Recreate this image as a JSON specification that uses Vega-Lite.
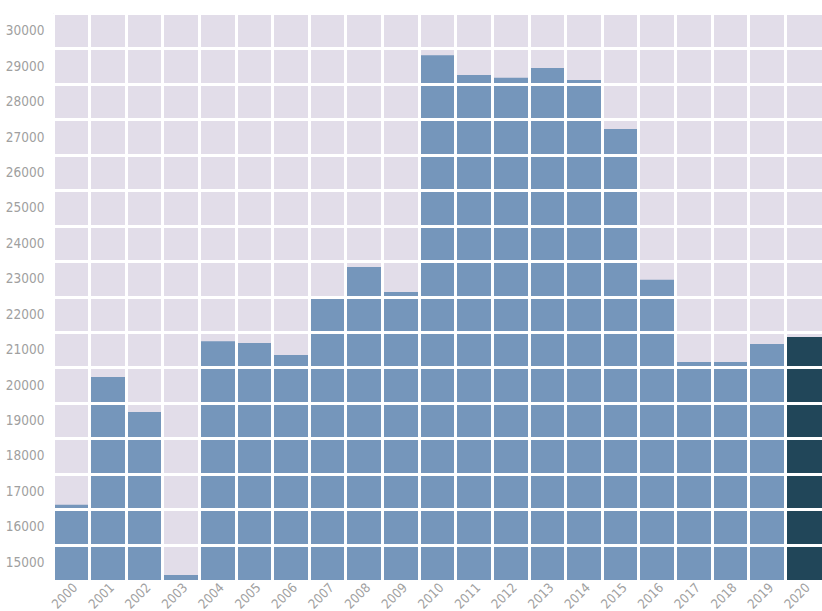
{
  "$schema": "https://vega.github.io/schema/vega-lite/v6.json",
  "autosize": "none",
  "width": 769,
  "height": 567,
  "padding": {"left": 53, "top": 13, "right": 0, "bottom": 31},
  "background": "#ffffff",
  "config": {
    "view": {"fill": "#e2dde9", "stroke": null},
    "axis": {
      "labelFont": "DejaVu Sans Condensed",
      "labelFontSize": 13.5,
      "labelColor": "#a0a0a0",
      "labelFontWeight": "normal",
      "ticks": false,
      "domain": false,
      "title": null
    }
  },
  "data": {
    "values": [
      {"year": "2000", "value": 16620},
      {"year": "2001", "value": 20230},
      {"year": "2002", "value": 19240},
      {"year": "2003", "value": 14640},
      {"year": "2004", "value": 21240},
      {"year": "2005", "value": 21190},
      {"year": "2006", "value": 20850},
      {"year": "2007", "value": 22480},
      {"year": "2008", "value": 23330},
      {"year": "2009", "value": 22630},
      {"year": "2010", "value": 29310},
      {"year": "2011", "value": 28750},
      {"year": "2012", "value": 28670},
      {"year": "2013", "value": 28950},
      {"year": "2014", "value": 28610},
      {"year": "2015", "value": 27230},
      {"year": "2016", "value": 22970},
      {"year": "2017", "value": 20650},
      {"year": "2018", "value": 20650},
      {"year": "2019", "value": 21160},
      {"year": "2020", "value": 21360}
    ]
  },
  "mark": {"type": "bar", "clip": true},
  "encoding": {
    "x": {
      "field": "year",
      "type": "ordinal",
      "scale": {"paddingInner": 0, "paddingOuter": 0},
      "axis": {
        "labelAngle": -45,
        "labelPadding": 1,
        "labelFontSize": 13,
        "grid": true,
        "bandPosition": 0,
        "gridColor": "#ffffff",
        "gridWidth": 3,
        "gridOpacity": 1,
        "zindex": 1
      }
    },
    "y": {
      "field": "value",
      "type": "quantitative",
      "scale": {"domain": [14500, 30500], "zero": false, "nice": false},
      "axis": {
        "values": [15500, 16500, 17500, 18500, 19500, 20500, 21500, 22500, 23500, 24500, 25500, 26500, 27500, 28500, 29500, 30500],
        "labelExpr": "format(datum.value - 500, 'd')",
        "labelOffset": 17.7,
        "labelPadding": 9,
        "labelFlush": false,
        "labelOverlap": false,
        "grid": true,
        "gridColor": "#ffffff",
        "gridWidth": 3,
        "gridOpacity": 1,
        "zindex": 1
      }
    },
    "color": {
      "condition": {"test": "datum.year === '2020'", "value": "#214659"},
      "value": "#7596bb"
    }
  }
}
